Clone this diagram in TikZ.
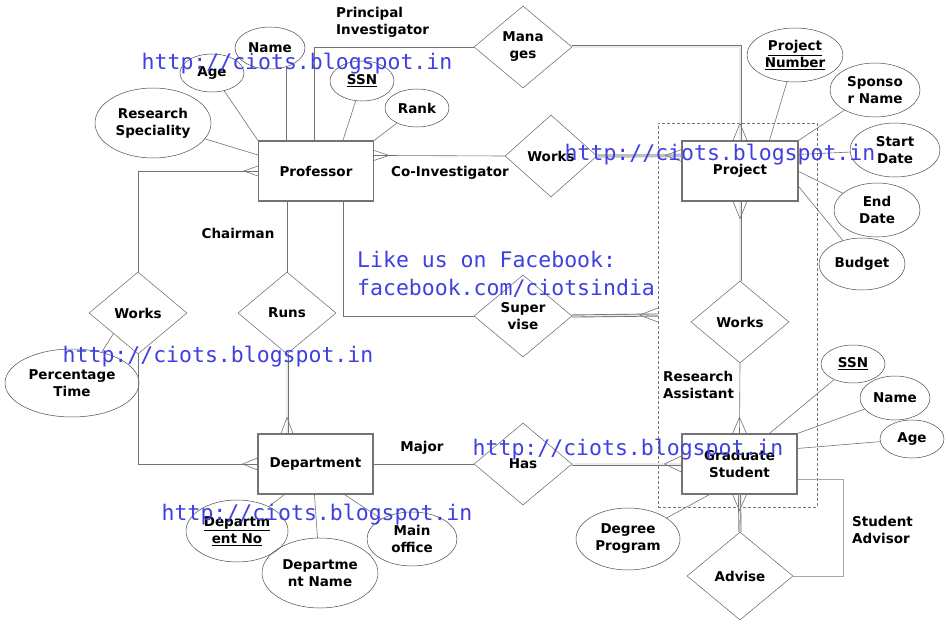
\documentclass[tikz,border=0pt]{standalone}
\usepackage{fontspec}
\setmainfont{DejaVu Sans}
\newfontfamily\wmfont{DejaVu Sans Mono}
\usetikzlibrary{shapes.geometric,calc}
\definecolor{wmblue}{RGB}{64,64,224}
\newcommand\crowfoot[3]{\draw[crowft] (#2) -- (#1) -- (#3);}
\begin{document}
\begin{tikzpicture}[x=1pt,y=-1pt,
 lbfont/.style={font=\bfseries\fontsize{13.5}{17}\selectfont, align=center},
 ent/.style={rectangle, draw=black!55, line width=1.1pt, minimum width=115pt, minimum height=60pt, inner sep=0pt, lbfont},
 attr/.style={ellipse, draw=black!70, line width=0.5pt, inner sep=0pt, lbfont},
 rel/.style={diamond, draw=black!60, line width=0.5pt, inner sep=0pt, minimum width=98pt, minimum height=82pt, lbfont},
 conn/.style={draw=black!55, line width=0.6pt},
 dblout/.style={draw=black!55, line width=3pt},
 dblin/.style={draw=black!8, line width=1.2pt},
 crowft/.style={draw=black!55, line width=0.6pt},
 lbl/.style={lbfont, align=left, inner sep=0pt},
 wm/.style={font=\wmfont\fontsize{21.5}{28}\selectfont, text=wmblue, inner sep=0pt, align=left}]
\fill[white] (0,0) rectangle (948,626);
\useasboundingbox (0,0) rectangle (948,626);

% aggregation box
\node[draw=black!55, dash pattern=on 3pt off 2pt, line width=0.5pt, minimum width=159pt, minimum height=384pt, inner sep=0pt] (agg) at (737.5,315) {};

% entities
\node[ent] (prof) at (316,171) {Professor};
\node[ent, minimum width=116pt] (proj) at (740,171) {Project};
\node[ent] (dept) at (315.5,464) {Department};
\node[ent] (grad) at (739.5,464) {Graduate\\Student};

% attributes
\node[attr, minimum width=70pt, minimum height=42pt] (pname) at (270,48) {Name};
\node[attr, minimum width=64pt, minimum height=38pt] (page) at (212,73) {Age};
\node[attr, minimum width=64pt, minimum height=40pt] (pssn) at (362,81) {\underline{SSN}};
\node[attr, minimum width=64pt, minimum height=38pt] (prank) at (417,108) {Rank};
\node[attr, minimum width=116pt, minimum height=70pt] (prs) at (153,123) {Research\\Speciality};
\node[attr, minimum width=96pt, minimum height=54pt] (pnum) at (795,55) {\underline{Project}\\\underline{Number}};
\node[attr, minimum width=90pt, minimum height=54pt] (spn) at (875,90) {Sponso\\r Name};
\node[attr, minimum width=90pt, minimum height=54pt] (sd) at (895,150) {Start\\Date};
\node[attr, minimum width=86pt, minimum height=54pt] (ed) at (877,210) {End\\Date};
\node[attr, minimum width=86pt, minimum height=52pt] (bud) at (862,264) {Budget};
\node[attr, minimum width=134pt, minimum height=68pt] (pt) at (72,383) {Percentage\\Time};
\node[attr, minimum width=64pt, minimum height=38pt] (gssn) at (853,364) {\underline{SSN}};
\node[attr, minimum width=70pt, minimum height=44pt] (gname) at (895,398) {Name};
\node[attr, minimum width=64pt, minimum height=38pt] (gage) at (912,439) {Age};
\node[attr, minimum width=104pt, minimum height=62pt] (dp) at (628,539) {Degree\\Program};
\node[attr, minimum width=102pt, minimum height=62pt] (dno) at (237,531) {\underline{Departm}\\\underline{ent No}};
\node[attr, minimum width=116pt, minimum height=70pt] (dname) at (320,573) {Departme\\nt Name};
\node[attr, minimum width=90pt, minimum height=54pt] (mo) at (412,539) {Main\\office};

% relationships
\node[rel] (man) at (523,47) {Mana\\ges};
\node[rel, minimum width=92pt] (wk1) at (551,156) {Works};
\node[rel] (sup) at (523,316) {Super\\vise};
\node[rel] (wk2) at (740,322) {Works};
\node[rel] (wkl) at (138,313) {Works};
\node[rel] (runs) at (287,313) {Runs};
\node[rel] (has) at (523,464) {Has};
\node[rel, minimum width=106pt, minimum height=88pt] (adv) at (740,576) {Advise};

% role labels
\node[lbl, anchor=west] (lpi) at (336,22) {Principal\\Investigator};
\node[lbl] (lci) at (450,173) {Co-Investigator};
\node[lbl] (lch) at (238,233) {Chairman};
\node[lbl, anchor=west] (lra) at (663,385) {Research\\Assistant};
\node[lbl] (lmj) at (422,448) {Major};
\node[lbl, anchor=west] (lsa) at (852,530) {Student\\Advisor};

% professor attributes
\draw[conn] (page) -- (prof.north west);
\draw[conn] (prs) -- ($(prof.west)+(0,-16)$);
\draw[conn] ($(prof.north west)+(28,0)$) coordinate (pn1) -- ($(pn1 |- pname.south)+(0,-3)$);
\draw[conn] (pssn) -- ($(prof.north west)+(85,0)$);
\draw[conn] (prank) -- (prof.north east);

% Manages
\draw[conn] ($(prof.north west)+(56,0)$) |- (man.west);
\draw[dblout] (man.east) -| (proj.north);
\draw[dblin] (man.east) -| (proj.north);
\crowfoot{$(proj.north)+(0,-17)$}{$(proj.north)+(-7,0)$}{$(proj.north)+(7,0)$}

% Works (co-investigator)
\draw[conn] ($(prof.north east)+(0,15)$) -- (wk1.west);
\crowfoot{$(prof.north east)+(15,15)$}{$(prof.north east)+(0,10)$}{$(prof.north east)+(0,20)$}
\draw[draw=black!25, line width=3.5pt] (wk1.east) -- ($(proj.north west)+(0,15)$);
\crowfoot{$(proj.north west)+(-16,15)$}{$(proj.north west)+(0,9)$}{$(proj.north west)+(0,21)$}

% project attributes
\draw[conn] (pnum) -- ($(proj.north west)+(88,0)$);
\draw[conn] (spn) -- (proj.north east);
\draw[conn] (sd) -- ($(proj.north east)+(0,14)$);
\draw[conn] (ed) -- ($(proj.north east)+(0,31)$);
\draw[conn] (bud) -- ($(proj.north east)+(0,46)$);

% Works (research assistant)
\draw[dblout] (proj.south) -- (wk2.north);
\draw[dblin] (proj.south) -- (wk2.north);
\crowfoot{$(proj.south)+(0,17)$}{$(proj.south)+(-7,0)$}{$(proj.south)+(7,0)$}
\draw[conn] (wk2.south) -- (grad.north);
\crowfoot{$(grad.north)+(0,-16)$}{$(grad.north)+(-7,0)$}{$(grad.north)+(7,0)$}

% Supervise
\draw[conn] ($(prof.south west)+(85,0)$) |- (sup.west);
\draw[dblout] (sup.east) -- (agg.west);
\draw[dblin] (sup.east) -- (agg.west);
\crowfoot{$(agg.west)+(-18,0)$}{$(agg.west)+(0,-7)$}{$(agg.west)+(0,7)$}

% Works (left)
\draw[conn] (wkl.north) |- (prof.west);
\crowfoot{$(prof.west)+(-14,0)$}{$(prof.west)+(0,-5)$}{$(prof.west)+(0,5)$}
\draw[conn] (wkl.south) |- (dept.west);
\crowfoot{$(dept.west)+(-15,0)$}{$(dept.west)+(0,-6)$}{$(dept.west)+(0,6)$}
\draw[conn] (pt.46) -- (wkl.south west);

% Runs
\draw[conn] (runs.north |- prof.south) -- (runs.north);
\draw[dblout] (runs.south) -- (runs.south |- dept.north);
\draw[dblin] (runs.south) -- (runs.south |- dept.north);
\crowfoot{$(runs.south |- dept.north)+(0,-16)$}{$(runs.south |- dept.north)+(-6,0)$}{$(runs.south |- dept.north)+(6,0)$}

% department attributes
\draw[conn] (dno) -- ($(dept.south west)+(27,0)$);
\draw[conn] (dname) -- ($(dept.south west)+(57,0)$);
\draw[conn] (mo) -- ($(dept.south west)+(87,0)$);

% Has
\draw[conn] (dept.east) -- (has.west);
\draw[dblout] (has.east) -- (grad.west);
\draw[dblin] (has.east) -- (grad.west);
\crowfoot{$(grad.west)+(-17,0)$}{$(grad.west)+(0,-8)$}{$(grad.west)+(0,8)$}

% graduate student attributes
\draw[conn] (gssn) -- ($(grad.north west)+(88,0)$);
\draw[conn] (gname) -- (grad.north east);
\draw[conn] (gage) -- ($(grad.north east)+(0,15)$);
\draw[conn] (dp) -- ($(grad.south west)+(28,0)$);

% Advise
\draw[dblout] (grad.south) -- (adv.north);
\draw[dblin] (grad.south) -- (adv.north);
\crowfoot{$(grad.south)+(0,16)$}{$(grad.south)+(-7,0)$}{$(grad.south)+(7,0)$}
\draw[conn, draw=black!35, line width=0.9pt] ($(grad.east)+(0,15)$) -| ($(adv.east)+(50,0)$) -- (adv.east);

% watermarks
\node[wm] (wm1) at (297,64) {http://ciots.blogspot.in};
\node[wm] (wm2) at (720,155) {http://ciots.blogspot.in};
\node[wm] (wm3) at (218,357) {http://ciots.blogspot.in};
\node[wm] (wm4) at (628,450) {http://ciots.blogspot.in};
\node[wm] (wm5) at (317,515) {http://ciots.blogspot.in};
\node[wm, anchor=west] (fb) at (357,274) {Like us on Facebook:\\facebook.com/ciotsindia};
\end{tikzpicture}
\end{document}
